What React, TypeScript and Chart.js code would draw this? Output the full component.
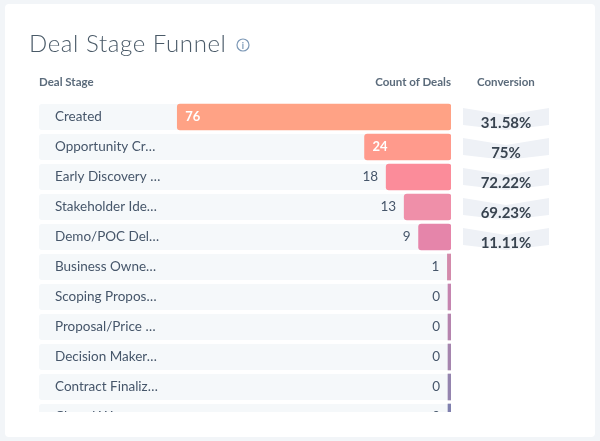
import React, { useEffect, useRef } from "react";
import { Chart, registerables } from "chart.js";

Chart.register(...registerables);

const stageLabels = [
  "Created",
  "Opportunity Cr…",
  "Early Discovery …",
  "Stakeholder Ide…",
  "Demo/POC Del…",
  "Business Owne…",
  "Scoping Propos…",
  "Proposal/Price …",
  "Decision Maker…",
  "Contract Finaliz…",
  "Closed Won",
];
const dealCounts = [76, 24, 18, 13, 9, 1, 0, 0, 0, 0, 0];
const conversionLabels = ["31.58%", "75%", "72.22%", "69.23%", "11.11%"];
const barColors = [
  "#ffa285", "#ff9a8c", "#fb8c9a", "#ef8fa9", "#e585aa", "#d38aab",
  "#c585b0", "#b584ae", "#a585ae", "#9484ae", "#8080ae",
];

const FONT = "Lato, 'Open Sans', sans-serif";
const INK = "#46566a";

const funnelPlugin = {
  id: "funnelPlugin",
  beforeDraw(chart: any) {
    const { ctx, chartArea, scales } = chart;
    ctx.save();
    ctx.fillStyle = "#f5f8fa";
    stageLabels.forEach((_, i) => {
      const y = scales.y.getPixelForValue(i);
      ctx.beginPath();
      ctx.roundRect(chartArea.left, y - 13, chartArea.right - chartArea.left, 26, 3);
      ctx.fill();
    });
    ctx.restore();
  },
  afterDatasetsDraw(chart: any) {
    const { ctx, scales } = chart;
    const bars = chart.getDatasetMeta(0).data;
    ctx.save();
    ctx.textBaseline = "middle";
    dealCounts.forEach((v, i) => {
      const el = bars[i];
      const y = scales.y.getPixelForValue(i);
      if (v >= 20) {
        ctx.textAlign = "left";
        ctx.fillStyle = "#ffffff";
        ctx.font = `bold 13px ${FONT}`;
        ctx.fillText(String(v), el.x + 8, y);
      } else {
        ctx.textAlign = "right";
        ctx.fillStyle = INK;
        ctx.font = `13.5px ${FONT}`;
        ctx.fillText(String(v), el.x - 8, y);
      }
    });
    // conversion chevrons
    conversionLabels.forEach((label, i) => {
      const y = scales.y.getPixelForValue(i);
      const l = 463, r = 549, c = 506;
      ctx.beginPath();
      ctx.moveTo(l, y - 9);
      ctx.lineTo(c, y - 2);
      ctx.lineTo(r, y - 9);
      ctx.lineTo(r, y + 8);
      ctx.lineTo(c, y + 13);
      ctx.lineTo(l, y + 8);
      ctx.closePath();
      ctx.fillStyle = "#eef1f6";
      ctx.fill();
      ctx.fillStyle = "#38434f";
      ctx.font = `bold 15px ${FONT}`;
      ctx.textAlign = "center";
      ctx.fillText(label, c, y + 6);
    });
    ctx.restore();
  },
  afterDraw(chart: any) {
    const { ctx } = chart;
    ctx.save();
    ctx.fillStyle = "#ffffff";
    ctx.fillRect(30, 412, 430, 22);
    ctx.restore();
  },
};

export default function App() {
  const ref = useRef<HTMLCanvasElement | null>(null);

  useEffect(() => {
    const chart = new Chart(ref.current!, {
      type: "bar",
      data: {
        labels: stageLabels,
        datasets: [
          {
            label: "Count of Deals",
            data: dealCounts,
            backgroundColor: barColors,
            barThickness: 26,
            minBarLength: 3,
            borderRadius: (c: any) => (dealCounts[c.dataIndex] > 1 ? 3 : 0),
            borderSkipped: false,
          },
        ],
      },
      options: {
        indexAxis: "y",
        animation: false,
        responsive: false,
        devicePixelRatio: 1,
        layout: { padding: { left: 39, right: 149, top: 102, bottom: 9 } },
        plugins: { legend: { display: false }, tooltip: { enabled: false } },
        scales: {
          x: {
            display: false,
            reverse: true,
            min: -0.001,
            max: 114.4,
          },
          y: {
            grid: { display: false },
            border: { display: false },
            afterFit: (s: any) => {
              s.width = 0;
              s.paddingTop = 0;
              s.paddingBottom = 0;
            },
            ticks: {
              mirror: true,
              padding: 16,
              color: INK,
              font: { family: FONT, size: 13.5 },
              autoSkip: false,
            },
          },
        },
      },
      plugins: [funnelPlugin],
    } as any);
    return () => chart.destroy();
  }, []);

  const header: React.CSSProperties = {
    position: "absolute",
    top: 76,
    fontFamily: FONT,
    fontSize: 11.5,
    fontWeight: 700,
    color: "#5b6b7b",
    lineHeight: "12px",
    whiteSpace: "nowrap",
  };

  return (
    <div style={{ position: "fixed", left: 0, top: 0, width: 600, height: 441, background: "#f2f5f8", overflow: "hidden" }}>
      <div style={{ position: "absolute", left: 5, top: 4, width: 590, height: 433, background: "#fff", borderRadius: 4 }} />
      <canvas ref={ref} width={600} height={441} style={{ position: "absolute", left: 0, top: 0, width: 600, height: 441 }} />
      <div style={{ position: "absolute", left: 29, top: 28, fontFamily: FONT, fontWeight: 300, fontSize: 24, lineHeight: "30px", color: "#4a5a68", letterSpacing: 0.6, whiteSpace: "nowrap" }}>
        Deal Stage Funnel
      </div>
      <svg width={14} height={14} style={{ position: "absolute", left: 236, top: 38 }}>
        <circle cx={7} cy={7} r={6} fill="none" stroke="#7c98b6" strokeWidth={1.2} />
        <text x={7} y={10.5} textAnchor="middle" fontFamily={FONT} fontSize={9} fontWeight={700} fill="#7c98b6">i</text>
      </svg>
      <div style={{ ...header, left: 39 }}>Deal Stage</div>
      <div style={{ ...header, right: 149 }}>Count of Deals</div>
      <div style={{ ...header, left: 477 }}>Conversion</div>
    </div>
  );
}
